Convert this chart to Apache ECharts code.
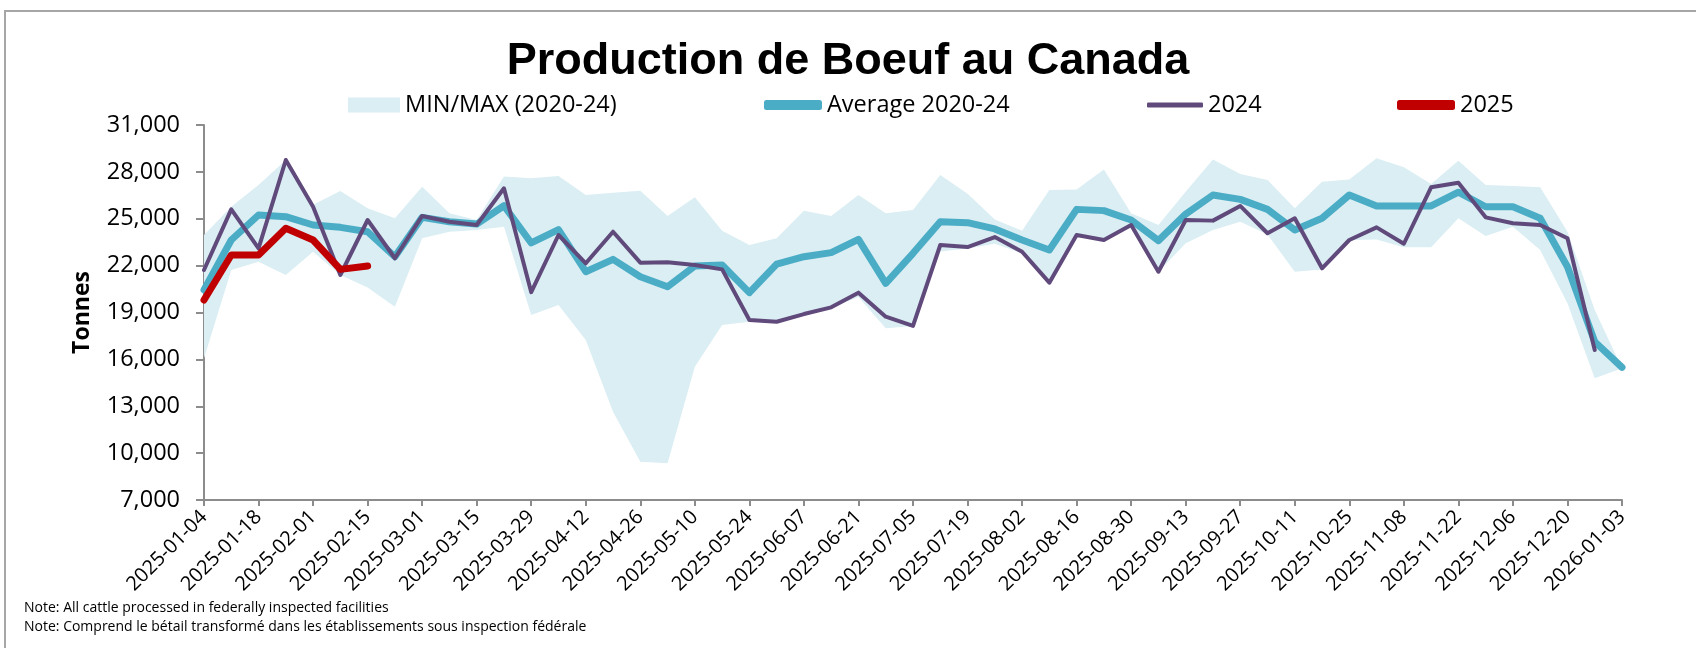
<!DOCTYPE html>
<html>
<head>
<meta charset="utf-8">
<script src="https://cdn.jsdelivr.net/npm/echarts@6/dist/echarts.min.js"></script>
<style>
html,body{margin:0;padding:0;background:#fff;}
#chart{width:1696px;height:648px;}
</style>
</head>
<body>
<div id="chart"></div>
<script>
var categories = [
  '2025-01-04','2025-01-11','2025-01-18','2025-01-25','2025-02-01','2025-02-08','2025-02-15','2025-02-22',
  '2025-03-01','2025-03-08','2025-03-15','2025-03-22','2025-03-29','2025-04-05','2025-04-12','2025-04-19',
  '2025-04-26','2025-05-03','2025-05-10','2025-05-17','2025-05-24','2025-05-31','2025-06-07','2025-06-14',
  '2025-06-21','2025-06-28','2025-07-05','2025-07-12','2025-07-19','2025-07-26','2025-08-02','2025-08-09',
  '2025-08-16','2025-08-23','2025-08-30','2025-09-06','2025-09-13','2025-09-20','2025-09-27','2025-10-04',
  '2025-10-11','2025-10-18','2025-10-25','2025-11-01','2025-11-08','2025-11-15','2025-11-22','2025-11-29',
  '2025-12-06','2025-12-13','2025-12-20','2025-12-27','2026-01-03'
];

var minValues = [
  16070,21720,22250,21400,22890,21400,20600,19370,
  23750,24170,24280,24490,18840,19480,17240,12650,
  9450,9350,15530,18200,18410,18400,18850,19300,
  20000,17990,18140,22900,23100,23400,22790,20910,
  23900,23600,24500,21610,23430,24280,24810,24000,
  21610,21760,23640,23680,23170,23170,25030,23900,
  24490,23000,19590,14790,15430
];

var maxValues = [
  23960,25770,27160,28760,25900,26770,25670,25030,
  27050,25350,24920,27700,27590,27740,26520,26670,
  26800,25180,26370,24240,23320,23750,25520,25180,
  26520,25350,25560,27800,26600,24950,24240,26840,
  26880,28160,25350,24600,26730,28800,27860,27480,
  25670,27370,27520,28870,28290,27220,28720,27160,
  27100,27010,24170,19160,15430
];

var average2020_24 = [
  20450,23640,25240,25130,24600,24450,24170,22570,
  25090,24810,24660,25830,23450,24300,21610,22400,
  21290,20650,21980,22040,20270,22100,22570,22830,
  23680,20870,22790,24810,24750,24350,23640,23000,
  25600,25520,24920,23600,25300,26520,26240,25600,
  24280,25030,26520,25820,25820,25820,26700,25770,
  25770,25030,21930,17130,15490
];

var values2024 = [
  21720,25600,23100,28760,25770,21400,24920,22470,
  25180,24810,24600,26950,20300,23960,22150,24170,
  22190,22210,22040,21760,18520,18410,18900,19330,
  20270,18730,18140,23320,23190,23830,22890,20910,
  23960,23640,24600,21610,24920,24880,25820,24070,
  25030,21830,23640,24450,23400,27010,27310,25090,
  24710,24600,23750,16600,null
];

var values2025 = [19800,22680,22680,24390,23640,21760,21980];

var bandRange = maxValues.map(function (v, i) { return v - minValues[i]; });

var chart = echarts.init(document.getElementById('chart'), null, {renderer: 'canvas'});

var legendText = {fontFamily: 'Open Sans', fontSize: 23.5, color: '#000'};

var option = {
  backgroundColor: '#fff',
  animation: false,
  title: {
    text: 'Production de Boeuf au Canada',
    left: 'center',
    top: 34,
    textStyle: {fontFamily: 'Liberation Sans', fontWeight: 'bold', fontSize: 45, color: '#000'}
  },
  graphic: [{
    type: 'rect',
    shape: {x: 5, y: 11, width: 1800, height: 1000},
    style: {fill: null, stroke: '#a6a6a6', lineWidth: 2},
    silent: true
  }],
  legend: [
    {data: ['MIN/MAX (2020-24)'], left: 348, top: 93, icon: 'rect', itemWidth: 52, itemHeight: 15, textStyle: legendText, padding: 0},
    {data: ['Average 2020-24'], left: 764, top: 93, icon: 'roundRect', itemWidth: 58, itemHeight: 10, textStyle: legendText, padding: 0},
    {data: ['2024'], left: 1147, top: 93, icon: 'roundRect', itemWidth: 56, itemHeight: 5, textStyle: legendText, padding: 0},
    {data: ['2025'], left: 1397, top: 93, icon: 'roundRect', itemWidth: 58, itemHeight: 10, textStyle: legendText, padding: 0}
  ],
  grid: {left: 204, right: 74, top: 125, bottom: 148, containLabel: false},
  xAxis: {
    type: 'category',
    data: categories,
    boundaryGap: false,
    axisLine: {lineStyle: {color: '#8c8c8c', width: 2}},
    axisTick: {interval: 1, length: 6, lineStyle: {color: '#8c8c8c', width: 2}},
    axisLabel: {interval: 1, rotate: 45, fontFamily: 'Open Sans', fontSize: 20, color: '#000', margin: 14}
  },
  yAxis: {
    type: 'value',
    min: 7000,
    max: 31000,
    interval: 3000,
    name: 'Tonnes',
    nameLocation: 'middle',
    nameRotate: 90,
    nameGap: 110,
    nameTextStyle: {fontFamily: 'Open Sans', fontWeight: 'bold', fontSize: 23, color: '#000'},
    axisLine: {show: true, lineStyle: {color: '#8c8c8c', width: 2}},
    axisTick: {show: true, length: 8, lineStyle: {color: '#8c8c8c', width: 2}},
    splitLine: {show: false},
    axisLabel: {fontFamily: 'Open Sans', fontSize: 23.5, color: '#000', margin: 24}
  },
  series: [
    {
      name: 'minBase',
      type: 'line',
      stack: 'band',
      data: minValues,
      symbol: 'none',
      lineStyle: {opacity: 0},
      silent: true,
      z: 1
    },
    {
      name: 'MIN/MAX (2020-24)',
      type: 'line',
      stack: 'band',
      data: bandRange,
      symbol: 'none',
      lineStyle: {opacity: 0},
      itemStyle: {color: '#DAEEF3'},
      areaStyle: {color: '#DAEEF3', opacity: 1},
      silent: true,
      z: 1
    },
    {
      name: 'Average 2020-24',
      type: 'line',
      data: average2020_24,
      symbol: 'none',
      itemStyle: {color: '#4BACC6'},
      lineStyle: {color: '#4BACC6', width: 7, cap: 'round', join: 'round'},
      z: 3
    },
    {
      name: '2024',
      type: 'line',
      data: values2024,
      symbol: 'none',
      itemStyle: {color: '#604A7B'},
      lineStyle: {color: '#604A7B', width: 4, cap: 'round', join: 'round'},
      z: 4
    },
    {
      name: '2025',
      type: 'line',
      data: values2025,
      symbol: 'none',
      itemStyle: {color: '#C00000'},
      lineStyle: {color: '#C00000', width: 7, cap: 'round', join: 'round'},
      z: 5
    }
  ]
};

option.graphic.push({
  type: 'text', left: 24, top: 601, silent: true,
  style: {text: 'Note: All cattle processed in federally inspected facilities', fontFamily: 'Open Sans', fontSize: 14, fill: '#000'}
});
option.graphic.push({
  type: 'text', left: 24, top: 620, silent: true,
  style: {text: 'Note: Comprend le bétail transformé dans les établissements sous inspection fédérale', fontFamily: 'Open Sans', fontSize: 14, fill: '#000'}
});

chart.setOption(option);
</script>
</body>
</html>
